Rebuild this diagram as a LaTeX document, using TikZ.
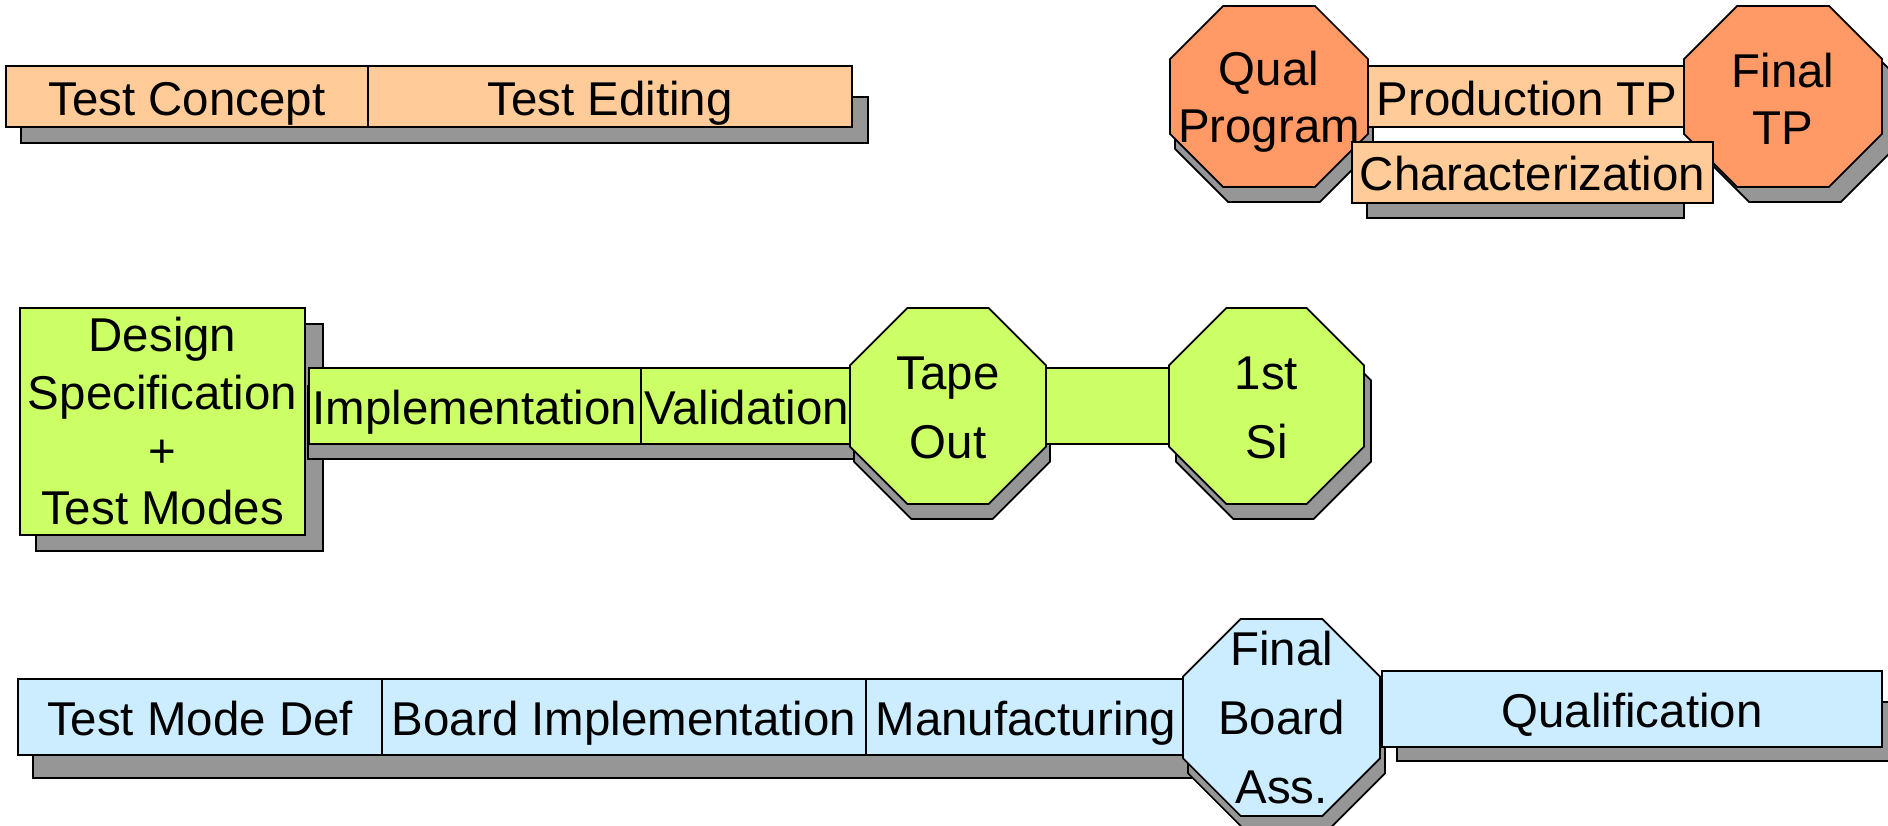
\documentclass[tikz,border=0pt]{standalone}
\usepackage{fontspec}
\setmainfont{Liberation Sans}
\usepackage{tikz}
\usetikzlibrary{positioning}

\definecolor{peach}{HTML}{FFCC99}
\definecolor{tangerine}{HTML}{FF9966}
\definecolor{stagegreen}{HTML}{CCFF66}
\definecolor{stageblue}{HTML}{CCECFF}
\definecolor{shadowgray}{HTML}{969696}

% octagon: style, centre x, centre y, half width, half height
\newcommand{\octagon}[5]{%
  \pgfmathsetmacro{\oc}{0.586*#5}%
  \draw[#1] (#2-#4+\oc,#3+#5) -- (#2+#4-\oc,#3+#5) -- (#2+#4,#3+#5-\oc)
    -- (#2+#4,#3-#5+\oc) -- (#2+#4-\oc,#3-#5) -- (#2-#4+\oc,#3-#5)
    -- (#2-#4,#3-#5+\oc) -- (#2-#4,#3+#5-\oc) -- cycle;
}

\begin{document}
\begin{tikzpicture}[
        stage/.style = {draw, rectangle, inner sep=0pt, outer sep=0pt, line width=0.5pt,
            font=\fontsize{13.5}{16.4}\selectfont, align=center},
        bar/.style = {stage, text height=10.6pt, text depth=0pt},
        peachbox/.style = {bar, fill=peach, minimum height=0.61cm},
        greenbox/.style = {bar, fill=stagegreen, minimum height=0.76cm},
        bluebox/.style = {bar, fill=stageblue, minimum height=0.76cm},
        tallbox/.style = {stage, fill=stagegreen},
        shd/.style = {draw, fill=shadowgray, line width=0.5pt},
        octo/.style = {draw, line width=0.5pt},
        octlabel/.style = {align=center, inner sep=0pt, font=\fontsize{13.5}{19.6}\selectfont},
        octlabeltight/.style = {octlabel, font=\fontsize{13.5}{16.1}\selectfont}
    ]
    \useasboundingbox (0,0) rectangle (18.88,8.26);

    % Test program row at the top
    \draw[shd] (0.21,6.83) rectangle (8.68,7.29);
    \node[peachbox, minimum width=3.62cm] (concept) at (1.87,7.295) {Test Concept};
    \node[peachbox, minimum width=4.84cm, right=0pt of concept] (editing) {Test Editing};

    % Qual program and final TP
    \octagon{shd, xshift=0.05cm, yshift=-0.15cm}{12.69}{7.295}{0.99}{0.905}
    \octagon{octo, fill=tangerine}{12.69}{7.295}{0.99}{0.905}
    \node[octlabeltight] (qual) at (12.69,7.245) {Qual\\Program};
    \node[peachbox, minimum width=3.18cm] (prodtp) at (15.27,7.295) {Production TP};
    \draw[shd] (13.67,6.08) rectangle (16.84,6.60);
    \octagon{shd, xshift=0.12cm, yshift=-0.15cm}{17.83}{7.295}{0.99}{0.905}
    \octagon{octo, fill=tangerine}{17.83}{7.295}{0.99}{0.905}
    \node[octlabeltight] (finaltp) at (17.83,7.27) {Final\\TP};
    \node[peachbox, minimum width=3.61cm] (charact) at (15.325,6.5375) {Characterization};

    % Design row in the middle
    \draw[shd] (0.36,2.75) rectangle (3.23,5.02);
    \node[tallbox, minimum width=2.85cm, minimum height=2.27cm] (design) at (1.625,4.045)
        {Design\\Specification\\+\\Test Modes};
    \draw[shd] (3.08,3.67) rectangle (8.60,4.40);
    \node[greenbox, minimum width=3.32cm] (impl) at (4.75,4.20) {Implementation};
    \node[greenbox, minimum width=2.11cm, right=0pt of impl] (valid) {Validation};
    \octagon{shd, xshift=0.04cm, yshift=-0.15cm}{9.48}{4.20}{0.98}{0.98}
    \octagon{octo, fill=stagegreen}{9.48}{4.20}{0.98}{0.98}
    \node[octlabel] (tapeout) at (9.48,4.18) {Tape\\Out};
    \node[greenbox, minimum width=1.23cm] (link) at (11.075,4.20) {};
    \octagon{shd, xshift=0.07cm, yshift=-0.15cm}{12.665}{4.20}{0.975}{0.98}
    \octagon{octo, fill=stagegreen}{12.665}{4.20}{0.975}{0.98}
    \node[octlabel] (firstsi) at (12.665,4.18) {1st\\Si};

    % Board row at the bottom
    \draw[shd] (0.33,0.48) rectangle (12.00,1.20);
    \node[bluebox, minimum width=3.64cm] (tmdef) at (2.00,1.09) {Test Mode Def};
    \node[bluebox, minimum width=4.84cm, right=0pt of tmdef] (boardimpl) {Board Implementation};
    \node[bluebox, minimum width=3.20cm, right=0pt of boardimpl] (manuf) {Manufacturing};
    \octagon{shd, xshift=0.05cm, yshift=-0.15cm}{12.815}{1.085}{0.985}{0.985}
    \octagon{octo, fill=stageblue}{12.815}{1.085}{0.985}{0.985}
    \node[octlabel] (fba) at (12.815,1.085) {Final\\Board\\Ass.};
    \draw[shd] (13.97,0.65) rectangle (18.97,1.24);
    \node[bluebox, minimum width=5.00cm] (qualif) at (16.32,1.17) {Qualification};

\end{tikzpicture}
\end{document}
